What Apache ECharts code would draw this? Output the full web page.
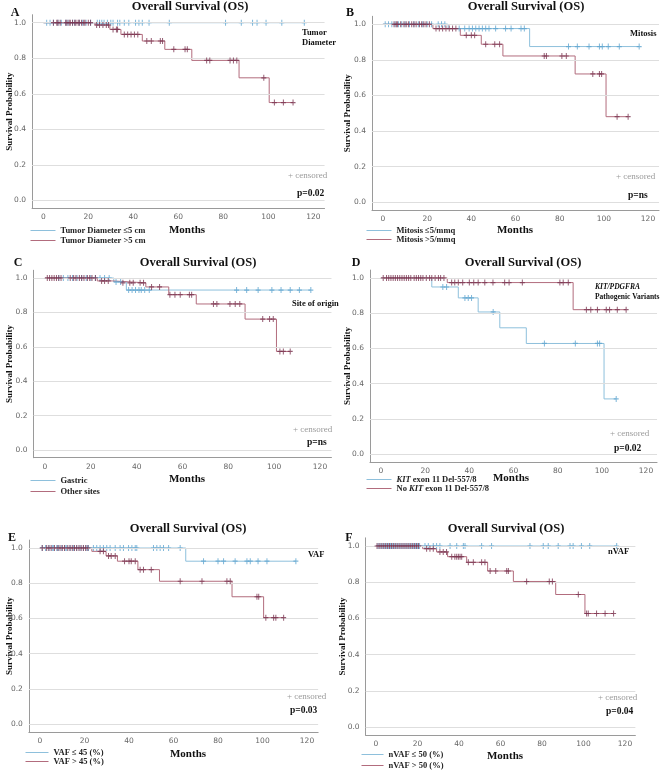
<!DOCTYPE html>
<html><head><meta charset="utf-8">
<script src="https://cdn.jsdelivr.net/npm/echarts@6/dist/echarts.min.js"></script>
<style>html,body{margin:0;padding:0;background:#fff}#c{width:666px;height:770px}</style>
</head><body><div id="c"></div>
<script>
// ---------- tick labels ----------
const xTicks = [0, 20, 40, 60, 80, 100, 120];
const yTicks = [0, 0.2, 0.4, 0.6, 0.8, 1.0];

// ---------- Panel A : Tumor Diameter ----------
const aLowEvents = [];
const aLowSurv = [];
const aLowCensor = [1.5, 3, 4.5, 6.5, 8, 10, 11, 13, 14, 16, 17.5, 19, 21, 24, 25, 26, 27, 28.5, 30, 31, 33, 34, 36, 38, 41, 42.5, 44, 47, 56, 81, 88, 93, 95, 99, 106, 116];
const aHighEvents = [23, 29.6, 34.5, 44, 54, 66, 87, 100.4];
const aHighSurv = [0.987, 0.962, 0.934, 0.897, 0.85, 0.788, 0.69, 0.551];
const aHighCensor = [4.5, 6, 6.5, 7.5, 10, 10.5, 11.5, 12, 13, 14, 14.5, 15.5, 16, 17, 18, 18.5, 20, 21, 23.7, 25, 26.5, 28, 29, 31, 32.5, 33, 36, 37.5, 39, 40.5, 42, 46, 48, 52, 53, 58, 63, 64, 72.6, 74, 83, 84.5, 86, 98, 102.7, 106.7, 111];

// ---------- Panel B : Mitosis ----------
const bLowEvents = [29.5, 66.4];
const bLowSurv = [0.976, 0.875];
const bLowCensor = [1, 2.5, 4, 5.5, 7, 8.5, 10, 12, 14, 16, 18, 20, 22, 25, 26.5, 28, 34.5, 37, 39, 40.5, 42, 43.5, 45, 46.5, 48, 51, 55.5, 58, 62.5, 64, 84, 88, 93.3, 98, 99.3, 102, 107, 116];
const bHighEvents = [22.6, 35, 44.5, 54.3, 87, 101];
const bHighSurv = [0.976, 0.938, 0.888, 0.822, 0.721, 0.481];
const bHighCensor = [5, 6, 6.5, 8, 9.5, 10.5, 11.5, 13, 14, 15, 16.5, 17.5, 18.5, 19.5, 21, 24, 25.5, 27, 28.5, 30, 31.5, 33, 37.7, 40, 41.5, 46.5, 50.6, 52.8, 73, 74, 81, 83, 95, 98, 99, 106, 111];

// ---------- Panel C : Site of origin ----------
const cGastricEvents = [30, 35.5];
const cGastricSurv = [0.977, 0.93];
const cGastricCensor = [6, 8, 10, 12, 14, 16, 18, 20, 22, 24, 26, 28, 31, 33, 36.5, 38, 39.5, 41, 42, 43.5, 45.5, 83.6, 88, 93, 99, 103, 107, 111, 116];
const cOtherEvents = [22.8, 29.5, 44, 54, 66, 87.3, 101];
const cOtherSurv = [0.983, 0.972, 0.948, 0.903, 0.849, 0.761, 0.573];
const cOtherCensor = [1, 2, 3, 4, 5, 6, 7, 11, 12.5, 13.5, 15, 16, 17, 18.5, 19.5, 20.5, 22, 24.7, 26, 27.6, 34, 37, 38.5, 41.5, 43, 46.5, 50, 54.5, 56.7, 59, 63, 64, 73.5, 75, 80.7, 83, 85, 95, 98, 99.6, 102.5, 104, 107];

// ---------- Panel D : KIT/PDGFRA ----------
const dKitEvents = [23, 35, 44, 53.8, 65.8, 101];
const dKitSurv = [0.949, 0.887, 0.807, 0.717, 0.628, 0.313];
const dKitCensor = [28, 29.7, 38, 39.5, 41, 50.8, 74, 88, 98, 99, 106.5];
const dNoKitEvents = [30, 87];
const dNoKitSurv = [0.974, 0.82];
const dNoKitCensor = [1, 2.5, 3.5, 4.5, 5.5, 6.5, 7.5, 8.5, 9.5, 10.5, 11.5, 12.5, 13.5, 15, 16, 17, 18, 19, 20.5, 22, 23, 24.5, 26, 27, 28.5, 32, 33.4, 35, 37, 40, 42, 44, 47, 50.7, 56, 58, 64, 81, 82.5, 84.8, 93, 95, 98, 102, 103.5, 107, 111];

// ---------- Panel E : VAF ----------
const eLowEvents = [65.5];
const eLowSurv = [0.925];
const eLowCensor = [1, 2.5, 4, 5.5, 6, 7.5, 8.3, 9.8, 11.3, 12, 13.5, 15, 16.5, 18, 19.5, 21, 21.8, 24, 25.5, 27, 28.5, 30, 31.5, 33.8, 36, 37.5, 39.8, 41.3, 42.8, 43.5, 51, 52.5, 54, 55.5, 57.8, 63, 73.5, 80, 82.5, 87.7, 93, 94.5, 98, 102, 115];
const eHighEvents = [23.3, 29.7, 34.8, 44, 53.7, 86.3, 100.5];
const eHighSurv = [0.981, 0.955, 0.925, 0.877, 0.811, 0.723, 0.604];
const eHighCensor = [1, 3, 4, 5, 6.5, 8, 9, 10, 11, 12.5, 13.5, 14.5, 15.5, 16.5, 17.5, 18.5, 19.5, 20.5, 21.5, 27, 28.5, 30.8, 32, 33.8, 38, 40, 41, 42.8, 45, 46.5, 50, 63, 72.8, 84, 85.5, 97.5, 98.3, 101.5, 105, 106, 109.5];

// ---------- Panel F : nVAF ----------
const fLowEvents = [];
const fLowSurv = [];
const fLowCensor = [1, 2, 3, 4, 5, 6, 7, 8, 9, 10, 11, 12, 13, 14, 15, 16, 17, 18, 19, 20, 21, 23.6, 25.2, 27.6, 29.2, 30.8, 35.7, 38.9, 42.1, 42.9, 50.9, 55.7, 74.2, 80.6, 83, 87.8, 93.5, 95, 99, 103, 116];
const fHighEvents = [22.5, 29.2, 34.5, 43.7, 53.8, 66.2, 86.6, 100.7];
const fHighSurv = [0.985, 0.967, 0.941, 0.91, 0.862, 0.804, 0.732, 0.627];
const fHighCensor = [0.5, 1.5, 2.5, 3.5, 4.5, 5.5, 6.5, 7.5, 8.5, 9.5, 10.5, 11.5, 12.5, 13.5, 14.5, 15.5, 16.5, 17.5, 18.5, 19.5, 20.5, 24.4, 26, 27.6, 30.8, 32.4, 34, 36.5, 38, 38.9, 39.7, 40.5, 41.3, 44.5, 46.9, 50.9, 52.5, 55, 57.7, 63, 63.8, 72.6, 83.5, 85, 97.5, 101.5, 102.3, 106.3, 110.4, 114.5];

// ---------- texts ----------
const panelLetters = ['A', 'B', 'C', 'D', 'E', 'F'];
const panelTitle = 'Overall Survival (OS)';
const groupLabels = [['Tumor', 'Diameter'], ['Mitosis'], ['Site of origin'], ['KIT/PDGFRA', 'Pathogenic Variants'], ['VAF'], ['nVAF']];
const pValues = ['p=0.02', 'p=ns', 'p=ns', 'p=0.02', 'p=0.03', 'p=0.04'];
const legendNames = [
  ['Tumor Diameter \u22645 cm', 'Tumor Diameter >5 cm'],
  ['Mitosis \u22645/mmq', 'Mitosis >5/mmq'],
  ['Gastric', 'Other sites'],
  ['KIT exon 11 Del-557/8', 'No KIT exon 11 Del-557/8'],
  ['VAF \u2264 45 (%)', 'VAF > 45 (%)'],
  ['nVAF \u2264 50 (%)', 'nVAF > 50 (%)']
];
const groupData = [
  [[aLowEvents, aLowSurv, aLowCensor], [aHighEvents, aHighSurv, aHighCensor]],
  [[bLowEvents, bLowSurv, bLowCensor], [bHighEvents, bHighSurv, bHighCensor]],
  [[cGastricEvents, cGastricSurv, cGastricCensor], [cOtherEvents, cOtherSurv, cOtherCensor]],
  [[dKitEvents, dKitSurv, dKitCensor], [dNoKitEvents, dNoKitSurv, dNoKitCensor]],
  [[eLowEvents, eLowSurv, eLowCensor], [eHighEvents, eHighSurv, eHighCensor]],
  [[fLowEvents, fLowSurv, fLowCensor], [fHighEvents, fHighSurv, fHighCensor]]
];

// ---------- layout (pixels) ----------
// leg: [lineLeft, centerY1, centerY2, lineWidth]
const layout = [
  {x0:43.3, x120:313.3, y1:22.7, y0:200.5, title:[190,7], letter:[15,13], sp:10, months:[187,230], leg:[30,231,241,25], grp:[302,33], grpSize:8.5, cens:[288,176], p:[297,194]},
  {x0:383, x120:648, y1:24.3, y0:202.3, title:[526,7], letter:[350,13], sp:348, months:[515,230], leg:[366,231,240,25], grp:[630,34], grpSize:8.5, cens:[616,177], p:[628,196]},
  {x0:45, x120:320, y1:278, y0:450, title:[198,263], letter:[18,263], sp:10, months:[187,479], leg:[30,481,492,25], grp:[292,304], grpSize:8.5, cens:[293,430], p:[307,443]},
  {x0:381, x120:646, y1:278, y0:454, title:[523,263], letter:[356,263], sp:348, months:[511,478], leg:[366,480,489,25], grp:[595,287], grpSize:7.5, cens:[610,434], p:[614,449]},
  {x0:40, x120:307, y1:548, y0:724, title:[188,529], letter:[12,538], sp:10, months:[188,754], leg:[25,753,762,23], grp:[308,555], grpSize:8.5, cens:[287,697], p:[290,711]},
  {x0:376, x120:625, y1:546, y0:727, title:[506,529], letter:[349,538], sp:343, months:[505,756], leg:[361,755,766,22], grp:[608,552], grpSize:8.5, cens:[598,698], p:[606,712]}
];

const XMIN = -5, XMAX = 125, YMIN = -0.045, YMAX = 1.045;
const lineColors = ['#8ec0dc', '#b26c7d'];
const markColors = ['#5fa5d0', '#7a3550'];
const serif = '"Liberation Serif", "DejaVu Serif", serif';
const plusPath = 'path://M0,4H10V6H0Z M4,0H6V10H4Z';

function km(events, surv, censor) {
  const end = Math.max(...censor, ...(events.length ? events : [0]));
  const line = [[0, 1]];
  events.forEach((t, i) => line.push([t, surv[i]]));
  line.push([end, surv.length ? surv[surv.length - 1] : 1]);
  const marks = censor.map(t => {
    let s = 1;
    events.forEach((e, i) => { if (e <= t) s = surv[i]; });
    return [t, s];
  });
  return { line, marks };
}

const grids = [], xAxes = [], yAxes = [], series = [], legends = [], graphics = [];

layout.forEach((L, i) => {
  const pxPerX = (L.x120 - L.x0) / 120;
  const pxPerY = (L.y0 - L.y1);
  grids.push({
    left: L.x0 + XMIN * pxPerX,
    width: (XMAX - XMIN) * pxPerX,
    top: L.y1 - (YMAX - 1) * pxPerY,
    height: (YMAX - YMIN) * pxPerY
  });
  xAxes.push({
    type: 'value', gridIndex: i, min: XMIN, max: XMAX,
    axisLine: { show: true, onZero: false, lineStyle: { color: '#9a9a9a', width: 1 } },
    axisTick: { show: false },
    splitLine: { show: false },
    axisLabel: { customValues: xTicks, color: '#666', fontSize: 7.5, fontFamily: '"DejaVu Sans", sans-serif', margin: 5 }
  });
  yAxes.push({
    type: 'value', gridIndex: i, min: YMIN, max: YMAX,
    axisLine: { show: true, onZero: false, lineStyle: { color: '#9a9a9a', width: 1 } },
    axisTick: { show: false },
    splitLine: { show: false },
    axisLabel: { customValues: yTicks, color: '#666', fontSize: 7.5, fontFamily: '"DejaVu Sans", sans-serif', margin: 6, formatter: v => v.toFixed(1) }
  });
  // gridlines
  series.push({
    type: 'line', xAxisIndex: i, yAxisIndex: i, data: [[-100, -100]], silent: true, z: 1,
    showSymbol: false, lineStyle: { opacity: 0 },
    markLine: {
      silent: true, symbol: 'none', animation: false, label: { show: false },
      lineStyle: { color: '#dedede', width: 1, type: 'solid' },
      data: yTicks.map(v => ({ yAxis: v }))
    }
  });
  groupData[i].forEach((g, k) => {
    const r = km(g[0], g[1], g[2]);
    series.push({
      name: legendNames[i][k], type: 'line', xAxisIndex: i, yAxisIndex: i,
      step: 'end', data: r.line, symbol: 'none', z: 2 + k,
      lineStyle: { color: lineColors[k], width: 1 }, itemStyle: { color: lineColors[k] },
      animation: false
    });
    series.push({
      type: 'scatter', xAxisIndex: i, yAxisIndex: i, data: r.marks, z: 4 + k,
      symbol: plusPath, symbolSize: [5, 6], itemStyle: { color: markColors[k] }, animation: false, silent: true
    });
    legends.push({
      data: [{ name: legendNames[i][k] }], orient: 'vertical',
      left: L.leg[0], top: L.leg[1 + k] - 5,
      itemWidth: L.leg[3], itemHeight: 8, padding: 0, selectedMode: false,
      itemStyle: { opacity: 0 },
      lineStyle: { color: lineColors[k], width: 1 },
      textStyle: { fontFamily: serif, fontWeight: 'bold', fontSize: 8.5, color: '#222',
        rich: { i: { fontFamily: serif, fontWeight: 'bold', fontStyle: 'italic', fontSize: 8.5, color: '#222' } } },
      formatter: name => name.replace('KIT', '{i|KIT}')
    });
  });
  // texts
  const T = (text, x, y, font, fill, align) => graphics.push({
    type: 'text', x: x, y: y, silent: true,
    style: { text: text, font: font, fill: fill, align: align || 'left', verticalAlign: 'middle' }
  });
  T(panelTitle, L.title[0], L.title[1], 'bold 12.5px ' + serif, '#111', 'center');
  T(panelLetters[i], L.letter[0], L.letter[1], 'bold 12px ' + serif, '#111', 'center');
  T('Months', L.months[0], L.months[1], 'bold 11px ' + serif, '#111', 'center');
  T('+ censored', L.cens[0], L.cens[1], '9px ' + serif, '#9a9a9a', 'left');
  T(pValues[i], L.p[0], L.p[1], 'bold 9.5px ' + serif, '#111', 'left');
  groupLabels[i].forEach((s, j) => {
    const italic = (i === 3 && j === 0) ? 'italic ' : '';
    T(s, L.grp[0], L.grp[1] + j * 10, italic + 'bold ' + L.grpSize + 'px ' + serif, '#111', 'left');
  });
  graphics.push({
    type: 'text', x: L.sp, y: (L.y1 + L.y0) / 2, rotation: Math.PI / 2, silent: true,
    style: { text: 'Survival Probability', font: 'bold 9px ' + serif, fill: '#111', align: 'center', verticalAlign: 'middle' }
  });
});

const chart = echarts.init(document.getElementById('c'), null, { renderer: 'canvas' });
chart.setOption({
  animation: false,
  backgroundColor: '#fff',
  grid: grids, xAxis: xAxes, yAxis: yAxes, series: series, legend: legends, graphic: graphics
});
</script>
</body></html>
